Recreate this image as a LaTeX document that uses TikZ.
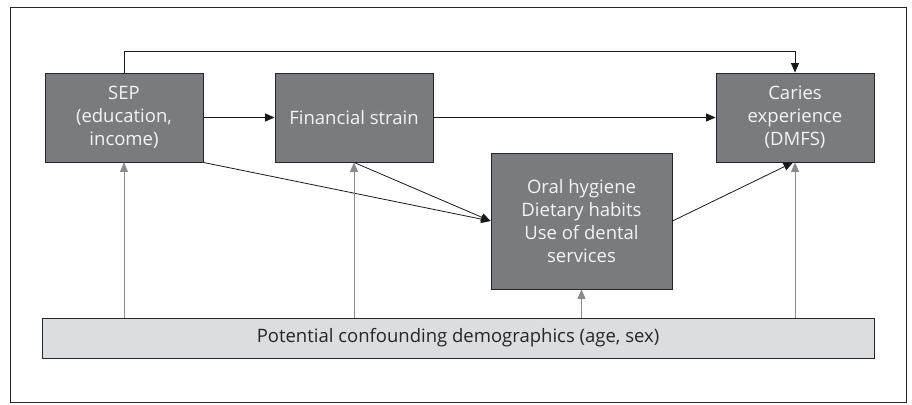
\documentclass[tikz,border=0pt]{standalone}
\usepackage{fontspec}
\setmainfont{Open Sans}
\usetikzlibrary{arrows.meta,calc}
\definecolor{boxgray}{HTML}{7A7B7E}
\definecolor{lightbox}{HTML}{DCDDE0}
\definecolor{arrgray}{HTML}{8A8A8A}
\definecolor{txtwhite}{HTML}{F4F4F4}
\tikzset{
  darkbox/.style={draw=black!85, line width=0.9pt, fill=boxgray, text=txtwhite, align=center,
    font=\fontsize{18.5}{23}\selectfont, inner sep=0pt},
  confbox/.style={draw=black!85, line width=0.9pt, fill=lightbox, text=black!85,
    font=\fontsize{18.5}{23}\selectfont, inner sep=0pt},
  blackarr/.style={draw=black!90, line width=0.8pt, -{Triangle[length=9.5pt,width=8pt]}},
  grayarr/.style={draw=arrgray, line width=0.8pt, -{Triangle[length=9.5pt,width=8pt]}},
}
\begin{document}
\begin{tikzpicture}[x=1pt,y=-1pt]
\useasboundingbox (0,0) rectangle (912,404);
\draw[line width=0.9pt, black!85] (10,7) rectangle (906,402);
\node[darkbox, minimum width=158pt, minimum height=89pt] (sep) at (124,117.5) {SEP\\(education,\\income)};
\node[darkbox, minimum width=158pt, minimum height=89pt] (fs) at (354,117.5) {Financial strain};
\node[darkbox, minimum width=158pt, minimum height=89pt] (car) at (795,117.5) {Caries\\experience\\(DMFS)};
\node[darkbox, minimum width=181pt, minimum height=136pt] (oral) at (581.5,221) {Oral hygiene\\Dietary habits\\Use of dental\\services};
\node[confbox, minimum width=832pt, minimum height=40pt] (conf) at (458,338) {Potential confounding demographics (age, sex)};
% black arrows
\draw[blackarr] (sep.east) -- (fs.west);
\draw[blackarr] (fs.east) -- (car.west);
\draw[blackarr] (sep.north) -- ++(0,-21) -| (car.north);
\draw[blackarr] (sep.south east) -- (oral.west);
\draw[blackarr] (fs.south) -- (oral.west);
\draw[blackarr] (oral.east) -- ($(car.south)+(-2,0)$);
% gray arrows
\draw[grayarr] (sep.south |- conf.north) -- (sep.south);
\draw[grayarr] (fs.south |- conf.north) -- (fs.south);
\draw[grayarr] (oral.south |- conf.north) -- (oral.south);
\draw[grayarr] (car.south |- conf.north) -- (car.south);
\end{tikzpicture}
\end{document}
